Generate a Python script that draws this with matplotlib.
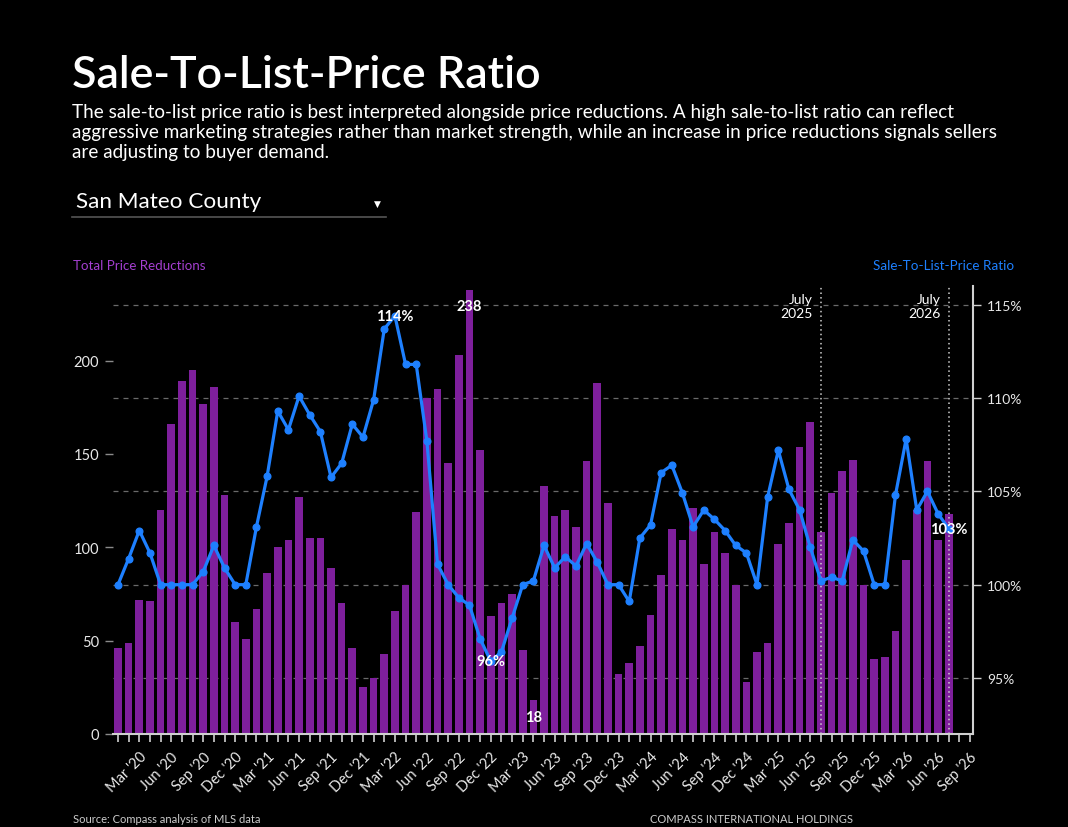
import numpy as np
import pandas as pd
import matplotlib
matplotlib.use("Agg")
import matplotlib.pyplot as plt
from matplotlib.transforms import blended_transform_factory

plt.rcParams["font.family"] = ["Lato", "DejaVu Sans"]

# monthly data, Jan 2020 .. Jul 2026
price_reductions = [
    46, 49, 72, 71, 120, 166, 189, 195, 177, 186, 128, 60, 51, 67, 86, 100,
    104, 127, 105, 105, 89, 70, 46, 25, 30,
    43, 66, 80, 119, 180, 185, 145, 203, 238, 152, 63, 70, 75, 45, 18, 133,
    117, 120, 111, 146, 188, 124, 32, 38, 47, 64, 85, 110, 104,
    121, 91, 108, 97, 80, 28, 44, 49, 102, 113, 154, 167, 108, 129, 141, 147,
    80, 40, 41, 55, 93, 120, 146, 104, 118,
]
sale_to_list = [
    100.0, 101.4, 102.9, 101.7, 100.0, 100.0, 100.0, 100.0, 100.7, 102.1,
    100.9, 100.0, 100.0, 103.1, 105.8, 109.3, 108.3, 110.1, 109.1, 108.2,
    105.75, 106.5, 108.6, 107.9, 109.9,
    113.7, 114.4, 111.8, 111.8, 107.7, 101.1, 100.0, 99.3, 98.9, 97.1, 95.9,
    96.4, 98.2, 100.0, 100.2, 102.1, 100.9, 101.5, 101.0, 102.2, 101.2, 100.0,
    100.0, 99.1, 102.5, 103.2, 106.0, 106.4, 104.9,
    103.1, 104.0, 103.5, 102.9, 102.1, 101.7, 100.0, 104.7, 107.2, 105.1,
    104.0, 102.0, 100.2, 100.4, 100.2, 102.4, 101.8, 100.0, 100.0, 104.8,
    107.8, 104.0, 105.0, 103.8, 103.0,
]
months = pd.date_range("2020-01-01", periods=81, freq="MS")  # axis runs to Sep '26
marker_months = ["2025-07", "2026-07"]

left_ticks = [0, 50, 100, 150, 200]
right_ticks = [95, 100, 105, 110, 115]

BG = "black"
BAR = "#7E1F9C"
LINE = "#1E80FF"
GRID = "#6a6a6a"
AXIS = "#d0d0d0"

fig = plt.figure(figsize=(10.68, 8.28), dpi=100, facecolor=BG)

# header
fig.text(72 / 1068, 1 - 88 / 828, "Sale-To-List-Price Ratio", fontsize=32.2,
         fontweight="semibold", color="white", va="baseline")
fig.text(72 / 1068, 1 - 104 / 828,
         "The sale-to-list price ratio is best interpreted alongside price reductions. "
         "A high sale-to-list ratio can reflect\naggressive marketing strategies rather "
         "than market strength, while an increase in price reductions signals sellers\n"
         "are adjusting to buyer demand.",
         fontsize=13.6, color="white", va="top", linespacing=1.22)
fig.text(76 / 1068, 1 - 208 / 828, "San Mateo County", fontsize=16.2,
         color="white", va="baseline")
fig.add_artist(plt.Line2D([72 / 1068, 386 / 1068], [1 - 218 / 828] * 2,
                          color="#555555", lw=1.2))
fig.text(377 / 1068, 1 - 204 / 828, "\u25BC", fontsize=6.5, color="white",
         ha="center", va="center", family="DejaVu Sans")

# axis captions
fig.text(73 / 1068, 1 - 266 / 828, "Total Price Reductions", fontsize=9.6,
         color="#A43FD0", va="center")
fig.text(1014 / 1068, 1 - 266 / 828, "Sale-To-List-Price Ratio", fontsize=9.7,
         color=LINE, va="center", ha="right")

ax = fig.add_axes([113 / 1068, 1 - 735 / 828, 860 / 1068, 448 / 828])
ax.set_facecolor(BG)
x = np.arange(len(price_reductions))

C_MAX = 240
R_MIN, R_MAX = 92, 116

# gridlines belong to the ratio axis but sit behind the bars
for r in right_ticks:
    ax.axhline((r - R_MIN) / (R_MAX - R_MIN) * C_MAX, color=GRID,
               ls=(0, (4, 4)), lw=0.9, zorder=1)

ax.bar(x, price_reductions, width=0.72, color=BAR, zorder=2)
ax.set_xlim(-0.47, 80.28)
ax.set_ylim(0, C_MAX)

# bar max / min labels
imax = int(np.argmax(price_reductions))
imin = int(np.argmin(price_reductions))
for i in (imax, imin):
    ax.annotate(str(price_reductions[i]), (i, price_reductions[i]),
                xytext=(0, -7), textcoords="offset points", ha="center",
                va="top", color="white", fontsize=10.5, fontweight="bold",
                zorder=5)

# July markers
trans = blended_transform_factory(ax.transData, ax.transAxes)
for m in marker_months:
    idx = list(months.strftime("%Y-%m")).index(m)
    ax.axvline(idx, color="#cfcfcf", ls=(0, (1, 2)), lw=1.1, zorder=4)
    ax.text(idx - 0.75, 0.985, "July\n" + m[:4], transform=trans, ha="right",
            va="top", color="white", fontsize=10, linespacing=1.2)

for s in ("top", "left", "right"):
    ax.spines[s].set_visible(False)
ax.spines["bottom"].set_color(AXIS)
ax.spines["bottom"].set_linewidth(1.5)

ax.set_yticks(left_ticks)
ax.tick_params(axis="y", colors="#8a8a8a", length=6, width=1, labelsize=10.5,
               labelcolor="#e8e8e8", pad=4)

labels = [f"{d.strftime('%b')} '{d.strftime('%y')}" if d.month % 3 == 0 else ""
          for d in months]
ax.set_xticks(np.arange(len(months)))
ax.set_xticklabels(labels, rotation=45, ha="right", rotation_mode="anchor")
ax.tick_params(axis="x", colors=AXIS, length=6, width=1.2, labelsize=10.5,
               labelcolor="#e8e8e8", pad=5)

# ratio line
ax2 = ax.twinx()
ax2.set_ylim(R_MIN, R_MAX)
ax2.plot(x, sale_to_list, color=LINE, lw=2.3, marker="o", ms=4.8, zorder=3)
for s in ("top", "left", "bottom"):
    ax2.spines[s].set_visible(False)
ax2.spines["right"].set_color(AXIS)
ax2.spines["right"].set_linewidth(1.5)
ax2.set_yticks(right_ticks)
ax2.set_yticklabels([f"{t}%" for t in right_ticks])
ax2.tick_params(axis="y", colors=AXIS, length=6, width=1, labelsize=10,
                labelcolor="#e8e8e8", pad=4)

rmax = int(np.argmax(sale_to_list))
rmin = int(np.argmin(sale_to_list))
for i in (rmax, rmin, len(sale_to_list) - 1):
    ax2.annotate(f"{sale_to_list[i]:.0f}%", (i, sale_to_list[i]),
                 xytext=(0, 0), textcoords="offset points", ha="center",
                 va="center", color="white", fontsize=10.5, fontweight="bold",
                 zorder=6)

# footer (cut off at the bottom edge in the source; kept just inside here)
fig.text(73 / 1068, 3 / 828, "Source: Compass analysis of MLS data",
         fontsize=8, color="#cccccc", va="bottom")
fig.text(650 / 1068, 3 / 828, "COMPASS INTERNATIONAL HOLDINGS",
         fontsize=8, color="#cccccc", va="bottom")

fig.savefig("out.png", dpi=100, facecolor=BG)
